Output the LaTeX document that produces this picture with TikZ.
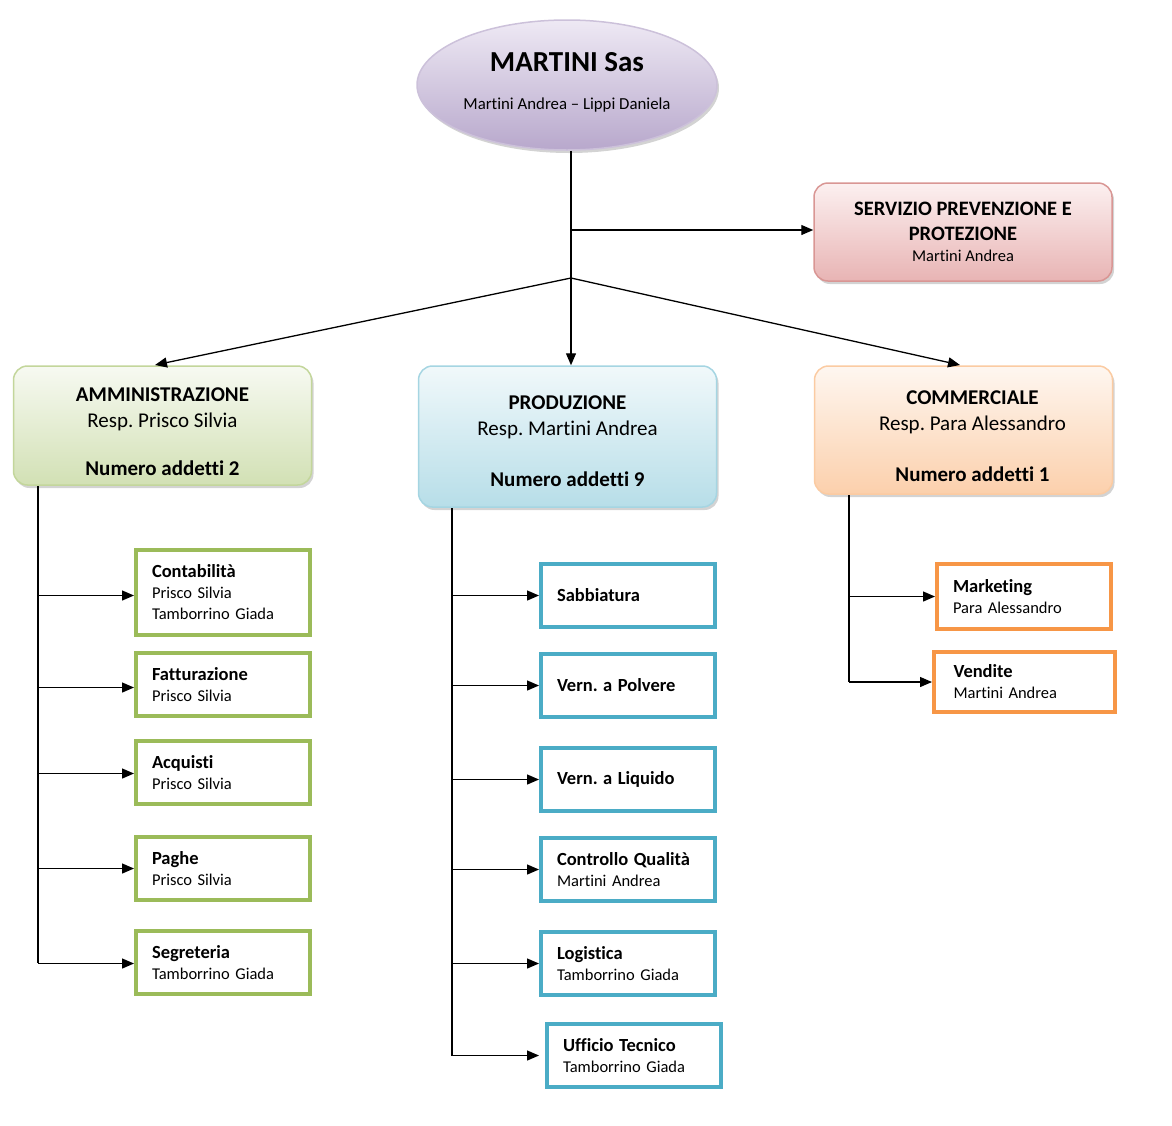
\documentclass[tikz,border=0pt]{standalone}
\usepackage{fontspec}
\setmainfont{Carlito}[Ligatures=CommonOff]
\frenchspacing
\usetikzlibrary{shapes.geometric,arrows.meta,shadows}
\definecolor{gB}{HTML}{9BBB59}
\definecolor{bB}{HTML}{4BACC6}
\definecolor{oB}{HTML}{F79646}
\newcommand{\tl}[1]{{\fontsize{18.5}{21}\selectfont\bfseries #1}}
\newcommand{\rsh}{\hspace*{18pt}}
\tikzset{
  arr/.style={line width=1.3pt,-{Triangle[length=12pt,width=10pt]}},
  conn/.style={line width=1.3pt},
  bigbox/.style={draw,rounded corners=14pt,line width=1.5pt,minimum width=298pt,align=center,
     drop shadow={opacity=0.35,shadow xshift=2pt,shadow yshift=-3pt}},
  greenbig/.style={bigbox,draw=gB!60,top color=gB!8,bottom color=gB!45},
  bluebig/.style={bigbox,draw=bB!50,top color=bB!8,bottom color=bB!40},
  orangebig/.style={bigbox,draw=oB!50,top color=oB!8,bottom color=oB!45},
  pinkbig/.style={bigbox,draw={rgb,255:red,217;green,150;blue,148},top color={rgb,255:red,252;green,240;blue,240},bottom color={rgb,255:red,232;green,180;blue,180}},
  subbox/.style={draw,line width=4pt,fill=white,minimum width=174pt,text width=142pt,inner xsep=16pt,align=left,
     font=\fontsize{16.5}{21}\selectfont},
  gsub/.style={subbox,draw=gB},
  bsub/.style={subbox,draw=bB},
  osub/.style={subbox,draw=oB},
  ttl/.style={font=\fontsize{21}{26}\selectfont}
}
\begin{document}
\begin{tikzpicture}[x=1pt,y=-1pt]
\useasboundingbox (0,0) rectangle (1172,1125);
% top
\node[ellipse,draw={rgb,255:red,204;green,193;blue,218},line width=1.5pt,minimum width=300pt,minimum height=130pt,
  top color={rgb,255:red,238;green,233;blue,244},bottom color={rgb,255:red,184;green,168;blue,204},
  drop shadow={opacity=0.35,shadow xshift=2pt,shadow yshift=-3pt},align=center,inner sep=0pt,
  font=\fontsize{16.8}{38}\selectfont]
  (top) at (567,85) {{\fontsize{29}{38}\selectfont\bfseries MARTINI Sas}\\Martini Andrea -- Lippi Daniela\rule[-8pt]{0pt}{8pt}};
\node[pinkbig,minimum height=98pt,font=\fontsize{20.5}{25}\selectfont] (spp) at (963,232)
  {\bfseries SERVIZIO PREVENZIONE E\\\bfseries PROTEZIONE\\[-4pt]{\fontsize{16.5}{20}\selectfont Martini Andrea}};
\node[greenbig,minimum height=119pt,ttl] (amm) at (162.5,425.5)
  {\rule{0pt}{27pt}\bfseries AMMINISTRAZIONE\\Resp. Prisco Silvia\\[22pt]\bfseries Numero addetti 2};
\node[bluebig,minimum height=141pt,ttl] (prod) at (567.5,436.5)
  {\rule{0pt}{23pt}\bfseries PRODUZIONE\\Resp. Martini Andrea\\[25pt]\bfseries Numero addetti 9};
\node[orangebig,minimum height=128pt,ttl] (comm) at (963.5,430)
  {\rsh\rule{0pt}{27pt}\bfseries COMMERCIALE\\\rsh Resp. Para Alessandro\\[25pt]\rsh\bfseries Numero addetti 1};
% green
\node[gsub,minimum height=85pt] (g1) at (223,592.5) {\tl{Contabilità}\\Prisco Silvia\\Tamborrino Giada};
\node[gsub,minimum height=63pt] (g2) at (223,684.5) {\tl{Fatturazione}\\Prisco Silvia};
\node[gsub,minimum height=63pt] (g3) at (223,772.5) {\tl{Acquisti}\\Prisco Silvia};
\node[gsub,minimum height=63pt] (g4) at (223,868.5) {\tl{Paghe}\\Prisco Silvia};
\node[gsub,minimum height=63pt] (g5) at (223,962.5) {\tl{Segreteria}\\Tamborrino Giada};
% blue
\node[bsub,minimum height=63pt] (b1) at (628,595.5) {\tl{Sabbiatura}};
\node[bsub,minimum height=63pt] (b2) at (628,685.5) {\tl{Vern. a Polvere}};
\node[bsub,minimum height=63pt] (b3) at (628,779.5) {\tl{Vern. a Liquido}};
\node[bsub,minimum height=63pt] (b4) at (628,869.5) {\tl{Controllo Qualità}\\Martini Andrea};
\node[bsub,minimum height=63pt] (b5) at (628,963.5) {\tl{Logistica}\\Tamborrino Giada};
\node[bsub,minimum height=63pt] (b6) at (634,1055.5) {\tl{Ufficio Tecnico}\\Tamborrino Giada};
% orange
\node[osub,minimum height=65pt] (o1) at (1024,596.5) {\tl{Marketing}\\Para Alessandro};
\node[osub,minimum height=60pt,minimum width=181pt] (o2) at (1024.5,682) {\tl{Vendite}\\Martini Andrea};
% connectors
\coordinate (j1) at (571,230);
\coordinate (j2) at (571,278);
\draw[conn] (top.south -| j1) -- (j2);
\draw[arr] (j1) -- (spp.west |- j1);
\draw[arr] (j2) -- (155,365) coordinate (ammtop);
\draw[arr] (j2) -- (j2 |- prod.north);
\draw[arr] (j2) -- (960,365) coordinate (commtop);
% spines
\coordinate (ls) at (38,486);
\draw[conn] (ls) -- (ls |- g5.west);
\foreach \n/\d in {g1/3,g2/3,g3/1,g4/0,g5/1} \draw[arr] ([yshift=-\d pt]ls |- \n.west) -- ([yshift=-\d pt]\n.west);
\coordinate (ms) at (452,508);
\draw[conn] (ms) -- (ms |- b6.west);
\foreach \n in {b1,b2,b3,b4,b5} \draw[arr] (ms |- \n.west) -- (\n.west);
\draw[arr] (ms |- b6.west) -- ([xshift=-6pt]b6.west);
\coordinate (rs) at (849,495);
\draw[conn] (rs) -- (rs |- o2.west);
\foreach \n in {o1,o2} \draw[arr] (rs |- \n.west) -- (\n.west);
\end{tikzpicture}
\end{document}
